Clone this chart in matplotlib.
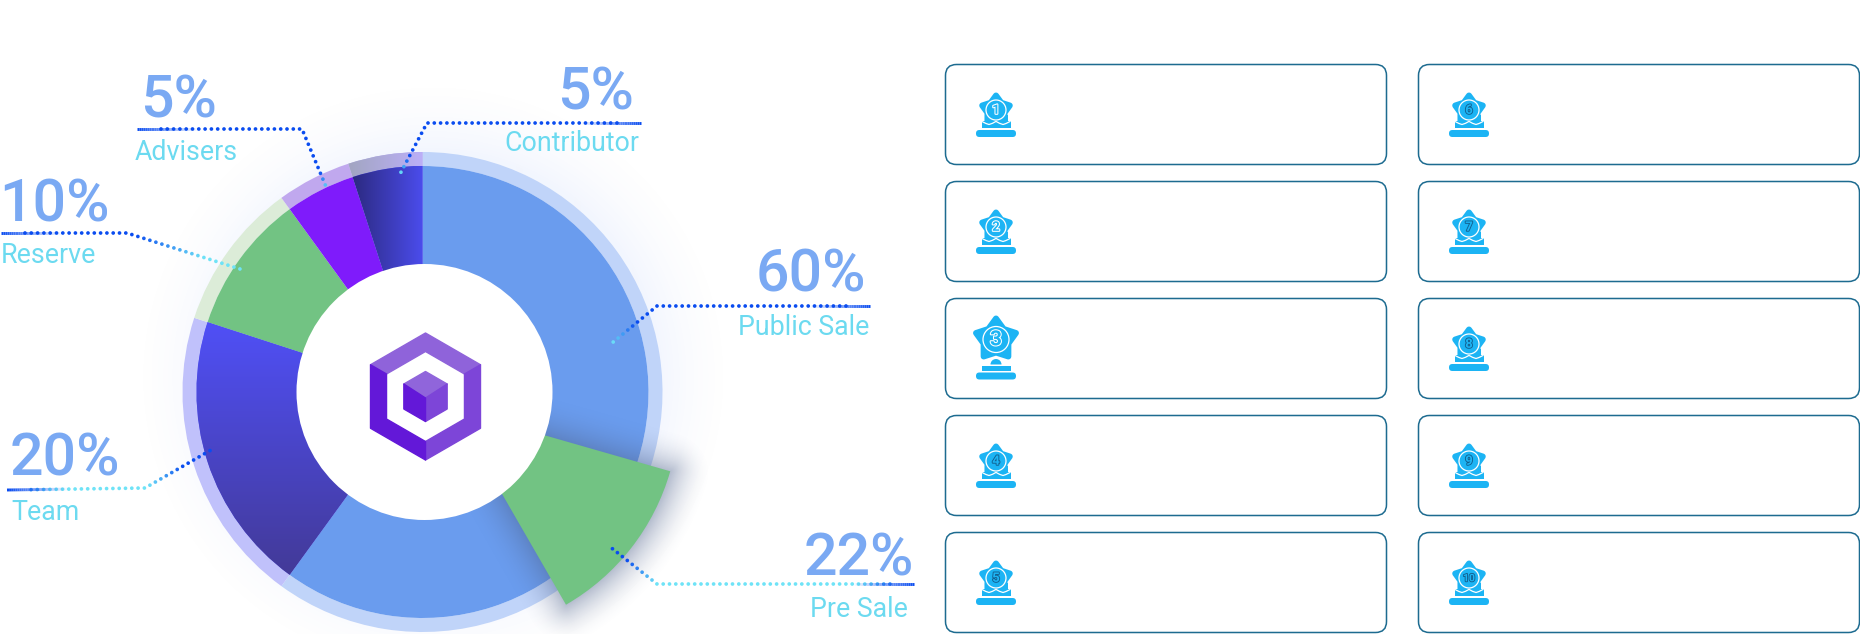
import numpy as np
import matplotlib
matplotlib.use('Agg')
import matplotlib.pyplot as plt
from matplotlib.colors import to_rgb
from matplotlib.patches import Wedge, Circle, Polygon, FancyBboxPatch, Rectangle
from matplotlib.collections import LineCollection
import matplotlib.patheffects as pe

plt.rcParams['font.family'] = ['Roboto', 'DejaVu Sans']

# ---- data ----
segment_names = ['Public Sale', 'Team', 'Reserve', 'Advisers', 'Contributor']
segment_values = [60, 20, 10, 5, 5]  # percent of the circle, clockwise from the top
segment_colors = ['#6a9cee', '#5050f8', '#72c383', '#7f1bfb', '#4a4be8']
ring_colors = ['#c0d4f9', '#c0c1fb', '#dcecd8', '#c0a8ee', '#b4adec']
pre_from, pre_to = 106, 150

pct_labels = ['5%', '10%', '5%', '60%', '22%', '20%']
name_labels = ['Advisers', 'Reserve', 'Contributor', 'Public Sale', 'Pre Sale', 'Team']

card_numbers = [['1', '2', '3', '4', '5'], ['6', '7', '8', '9', '10']]

# ---- layout (pixels) ----
W, H = 1860, 634
CX, CY = 422.5, 392
HOLE_X = 424.5
R_HOLE, R_MAIN, R_RING = 128, 226, 240
PRE_X, PRE_Y = 453, 409
BLUE = '#0a4cf0'
CYAN = '#6fe3f7'
PCT = '#7aa9f3'
NAME = '#6cdaf0'
STAR = '#1cb4f4'

fig = plt.figure(figsize=(W / 100, H / 100), dpi=100)
ax = fig.add_axes([0, 0, 1, 1])

yy, xx = np.mgrid[0:H, 0:W]


def overlay(color, alpha, zorder):
    img = np.zeros((H, W, 4))
    img[..., :3] = to_rgb(color)
    img[..., 3] = alpha
    return ax.imshow(img, extent=(0, W, H, 0), zorder=zorder, interpolation='bilinear', aspect='auto')


# soft glow behind the pie
gr = np.hypot(xx - CX - 10, yy - CY + 15)
overlay('#4a78f0', 0.07 * np.clip(1 - (gr - 225) / 85, 0, 1) ** 2, 1)

# segments and ring
start = 0
for name, value, col, rcol in zip(segment_names, segment_values, segment_colors, ring_colors):
    span = value * 3.6
    t1, t2 = start - 90, start + span - 90  # y axis is inverted, so angles run clockwise
    ring = Wedge((CX, CY), R_RING, t1, t2, width=R_RING - R_MAIN, fc=rcol, ec='none', zorder=2)
    ax.add_patch(ring)
    w = Wedge((CX, CY), R_MAIN, t1, t2, width=R_MAIN - R_HOLE + 5, fc=col, ec='none', zorder=3)
    ax.add_patch(w)
    if name == 'Team':
        frac = np.clip((yy - 318) / 255, 0, 1)[..., None]
        img = np.array(to_rgb('#5050f8')) * (1 - frac) + np.array(to_rgb('#433a98')) * frac
        im = ax.imshow(img, extent=(0, W, H, 0), zorder=3.2, aspect='auto')
        im.set_clip_path(w)
    if name == 'Contributor':
        frac = np.clip((xx - 352) / 70, 0, 1)[..., None]
        img = np.array(to_rgb('#2c2a80')) * (1 - frac) + np.array(to_rgb('#4b4cec')) * frac
        im = ax.imshow(img, extent=(0, W, H, 0), zorder=3.2, aspect='auto')
        im.set_clip_path(w)
        img2 = np.array(to_rgb('#a3a6c4')) * (1 - frac) + np.array(to_rgb('#bcaff8')) * frac
        im2 = ax.imshow(img2, extent=(0, W, H, 0), zorder=2.2, aspect='auto')
        im2.set_clip_path(ring)
    start += span

# shadow of the pulled out slice
px, py = xx + 0.5 - PRE_X, yy + 0.5 - PRE_Y
pr = np.hypot(px, py)
pa = np.degrees(np.arctan2(px, -py)) % 360
d_r = np.maximum(pr - R_MAIN, 0)
d_a = np.radians(np.maximum(np.maximum(pa - pre_to, pre_from - pa), 0)) * pr
dist = np.hypot(d_r, d_a)
overlay('#4d6088', 0.40 * np.clip(1 - dist / 42, 0, 1) ** 2, 4)
ax.add_patch(Wedge((PRE_X, PRE_Y), R_MAIN, pre_from - 90, pre_to - 90, fc='#72c383', ec='none', zorder=5))

ax.add_patch(Circle((HOLE_X, CY), R_HOLE, fc='white', ec='none', zorder=6))

# ---- logo ----
LX, LY = 425.5, 396.5


def hexagon(r, cy=LY):
    a = np.radians([90, 30, -30, -90, -150, 150])
    return np.c_[LX + r * np.cos(a), cy - r * np.sin(a)]


out, inn = hexagon(63.5), hexagon(45)
for pts, col in [([out[5], out[0], out[1], inn[1], inn[0], inn[5]], '#8f63da'),
                 ([out[1], out[2], out[3], inn[3], inn[2], inn[1]], '#7d45d8'),
                 ([out[3], out[4], out[5], inn[5], inn[4], inn[3]], '#6318d8')]:
    ax.add_patch(Polygon(pts, fc=col, ec=col, lw=1, joinstyle='round', zorder=7))
cube = hexagon(25)
mid = (LX, LY + 1.5)
for pts, col in [([cube[5], cube[0], cube[1], mid], '#9065db'),
                 ([cube[1], cube[2], cube[3], mid], '#7d45d8'),
                 ([cube[3], cube[4], cube[5], mid], '#6318d8')]:
    ax.add_patch(Polygon(pts, fc=col, ec=col, lw=1, joinstyle='round', zorder=7))


# ---- leaders ----
def leader(points, stops, solid=60):
    points = np.array(points, dtype=float)
    seg = np.hypot(*np.diff(points, axis=0).T)
    cum = np.r_[0, np.cumsum(seg)]
    s = np.arange(24, cum[-1] + 0.1, 6.3)
    lx = np.interp(s, cum, points[:, 0])
    ly = np.interp(s, cum, points[:, 1])
    fr, cols = zip(*stops)
    rgb = np.array([to_rgb(c) for c in cols])
    c = np.c_[[np.interp(s / cum[-1], fr, rgb[:, i]) for i in range(3)]].T
    ax.scatter(lx, ly, s=7, c=c, linewidths=0, zorder=8)
    # the solid part under the label, fading into the dots
    t = np.linspace(0, solid, 30)
    tx = np.interp(t, cum, points[:, 0])
    ty = np.interp(t, cum, points[:, 1])
    first = to_rgb(BLUE)
    col = [(*first, 1 - i / 29) for i in range(29)]
    ax.add_collection(LineCollection(np.stack([np.c_[tx[:-1], ty[:-1]], np.c_[tx[1:], ty[1:]]], axis=1),
                                     colors=col, linewidths=2.1, capstyle='butt', zorder=8))


leader([(137, 129), (302, 129), (327, 189)], [(0, BLUE), (0.92, BLUE), (1, CYAN)])
leader([(1, 233), (127, 233), (240, 269)], [(0, BLUE), (0.55, BLUE), (0.85, CYAN), (1, CYAN)])
leader([(641, 123), (427, 123), (400, 174)], [(0, BLUE), (0.93, BLUE), (1, CYAN)])
leader([(870, 306), (657, 306), (612, 343)], [(0, BLUE), (0.89, BLUE), (1, CYAN)])
leader([(914, 584), (657, 584), (609, 546)], [(0, BLUE), (0.16, CYAN), (0.81, CYAN), (0.93, BLUE), (1, BLUE)])
leader([(7, 490), (145, 488), (211, 450)], [(0, BLUE), (0.2, CYAN), (0.66, CYAN), (0.85, BLUE), (1, BLUE)])

# ---- labels ----
pct_pos = [(140, 118, 'left'), (-1, 222, 'left'), (634, 110, 'right'),
           (866, 292, 'right'), (914, 576, 'right'), (10, 476, 'left')]
name_pos = [(135, 160, 'left'), (1, 263, 'left'), (639, 151, 'right'),
            (869, 335, 'right'), (908, 617, 'right'), (11, 520, 'left')]
for txt, (x, y, ha) in zip(pct_labels, pct_pos):
    ax.text(x, y, txt, fontsize=42.5, color=PCT, ha=ha, va='baseline', family='Roboto', weight='medium', zorder=9)
for txt, (x, y, ha) in zip(name_labels, name_pos):
    ax.text(x, y, txt, fontsize=19.3, color=NAME, ha=ha, va='baseline', family='Roboto', weight='normal', zorder=9)

# ---- cards ----
wave_dx = [-14, -10, -7, -3.5, 0, 3.5, 7, 10, 14]
wave_dy = [-1.5, 0.5, 1.5, 0.3, -1.6, 0.3, 1.5, 0.5, -1.5]


def star(x, y, r):
    a = np.radians(90 + 36 * np.arange(10))
    rad = np.where(np.arange(10) % 2 == 0, r, r * 0.62)
    return np.c_[x + rad * np.cos(a), y - rad * np.sin(a)]


def trophy(x, top, num):
    big = num == '3'
    cy = top + (41 if big else 45.5)
    r_star = 21 if big else 14.5
    r_ring = 13 if big else 10
    ax.add_patch(Polygon(star(x, cy, r_star), fc=STAR, ec=STAR, lw=4.3, joinstyle='round', zorder=3))
    ax.add_patch(Circle((x, cy), r_ring, fc='none', ec='white', lw=0.9, zorder=4))
    bar_y = top + (74 if big else 65.5)
    ax.add_patch(FancyBboxPatch((x - 20, bar_y), 40, 7, boxstyle='round,pad=0,rounding_size=3.4',
                                fc=STAR, ec='none', zorder=3))
    if big:
        ax.add_patch(Rectangle((x - 14.5, top + 67), 29, 5, fc=STAR, ec='none', zorder=3))
        ax.add_patch(Wedge((x, top + 66), 5.5, 180, 360, fc=STAR, ec='none', zorder=3))
    else:
        ax.add_patch(Rectangle((x - 11.5, top + 50), 23, 8, fc=STAR, ec='none', zorder=3))
        ax.add_patch(Rectangle((x - 14.5, top + 56), 29, 7, fc=STAR, ec='none', zorder=3))
        ax.plot([x + d for d in wave_dx], [top + 58.5 + d for d in wave_dy], color='white', lw=0.9, zorder=4)
    fs = 15 if big else (7.5 if num == '10' else 9.5)
    if num in ('1', '2', '3'):
        effects = [pe.withStroke(linewidth=1.5, foreground='white')]
    else:
        effects = [pe.withStroke(linewidth=1.3, foreground='#12608f')]
    ax.text(x, cy + 0.3, num, fontsize=fs, color=STAR, ha='center', va='center', weight='bold',
            family='Roboto', path_effects=effects, zorder=5)


card_lefts = [945.5, 1418.5]
card_tops = [64.5, 181.5, 298.5, 415.5, 532.5]
CARD_W, CARD_H = 441, 100
for left, nums in zip(card_lefts, card_numbers):
    for top, num in zip(card_tops, nums):
        ax.add_patch(FancyBboxPatch((left, top), CARD_W, CARD_H, boxstyle='round,pad=0,rounding_size=11',
                                    fc='white', ec='#1d6b90', lw=1.1, zorder=2))
        trophy(left + 50.5, top, num)

ax.set_xlim(0, W)
ax.set_ylim(H, 0)
ax.axis('off')
fig.savefig('out.png', dpi=100)
